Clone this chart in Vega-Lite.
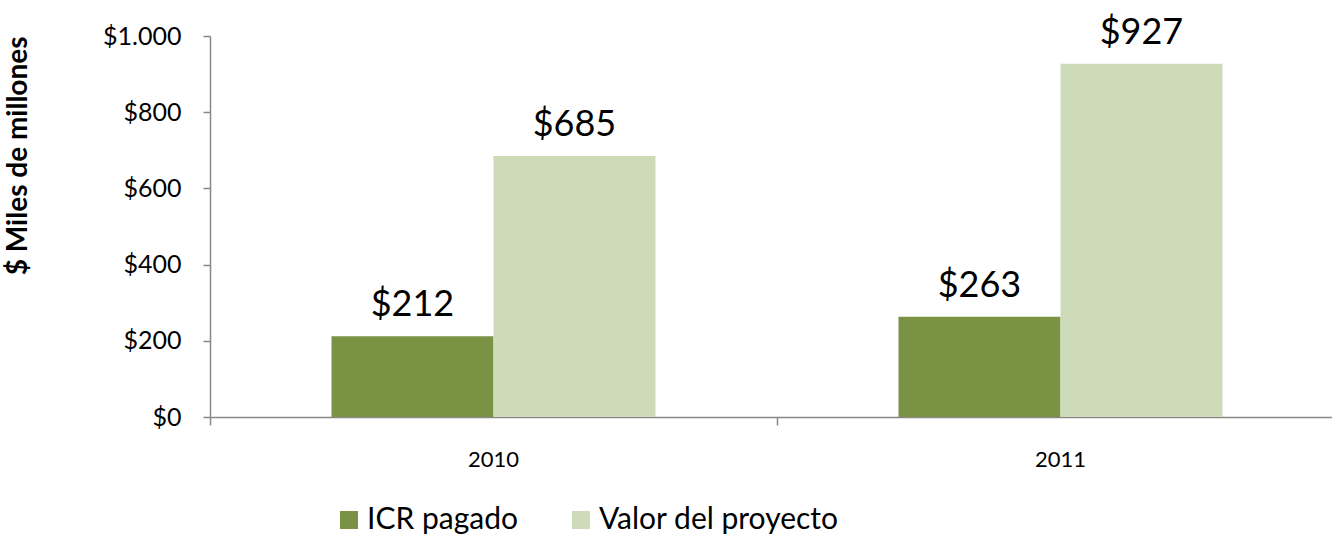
{
  "$schema": "https://vega.github.io/schema/vega-lite/v6.json",
  "autosize": "none",
  "width": 1122,
  "height": 381,
  "padding": {"left": 210, "top": 36, "right": 0, "bottom": 124},
  "background": "white",
  "config": {"font": "Lato", "view": {"stroke": null}},
  "data": {
    "values": [
      {"year": "2010", "serie": "ICR pagado", "valor": 212},
      {"year": "2010", "serie": "Valor del proyecto", "valor": 685},
      {"year": "2011", "serie": "ICR pagado", "valor": 263},
      {"year": "2011", "serie": "Valor del proyecto", "valor": 927}
    ]
  },
  "encoding": {
    "x": {
      "field": "year", "type": "nominal",
      "scale": {"range": [0, 1134], "paddingInner": 0, "paddingOuter": 0}
    },
    "xOffset": {"field": "serie", "type": "nominal", "scale": {"paddingInner": 0, "paddingOuter": 0.75}},
    "y": {
      "field": "valor", "type": "quantitative",
      "scale": {"domain": [0, 1000], "nice": false},
      "axis": {
        "values": [0, 200, 400, 600, 800, 1000],
        "labelExpr": "'$' + replace(format(datum.value, ','), ',', '.')",
        "labelFontSize": 25, "labelColor": "#000000", "labelPadding": 22,
        "tickSize": 7, "tickColor": "#888888", "domainColor": "#888888", "domainWidth": 1.5, "tickWidth": 1.5,
        "grid": false,
        "title": "$ Miles de millones", "titleFontSize": 28, "titleFontWeight": "bold", "titleColor": "#000000",
        "titleAnchor": "end", "titlePadding": 70
      }
    }
  },
  "layer": [
    {
      "mark": {"type": "bar"},
      "encoding": {
        "x": {
          "field": "year", "type": "nominal",
          "axis": {
            "bandPosition": 0, "labels": false, "title": null,
            "tickSize": 8, "tickColor": "#888888", "domainColor": "#888888", "domainWidth": 1.5, "tickWidth": 1.5, "orient": "bottom"
          }
        },
        "color": {
          "field": "serie", "type": "nominal",
          "scale": {"domain": ["ICR pagado", "Valor del proyecto"], "range": ["#7a9244", "#cddbb8"]},
          "legend": {
            "title": null, "orient": "none", "legendX": 124, "legendY": 469, "direction": "horizontal",
            "labelFontSize": 30, "labelColor": "#000000", "symbolType": "square", "symbolSize": 324,
            "symbolStrokeWidth": 0, "columnPadding": 48, "labelOffset": 3, "labelLimit": 400
          }
        }
      }
    },
    {
      "mark": {"type": "text", "baseline": "bottom", "dy": -12, "fontSize": 36, "color": "#000000"},
      "encoding": {
        "x": {
          "field": "year", "type": "nominal",
          "axis": {
            "ticks": false, "domain": false, "title": null, "labelFontSize": 22, "labelColor": "#000000",
            "labelPadding": 32, "labelAngle": 0, "orient": "bottom"
          }
        },
        "text": {"field": "valor", "type": "quantitative", "format": "$d"}
      }
    }
  ],
  "resolve": {"axis": {"x": "independent"}}
}
